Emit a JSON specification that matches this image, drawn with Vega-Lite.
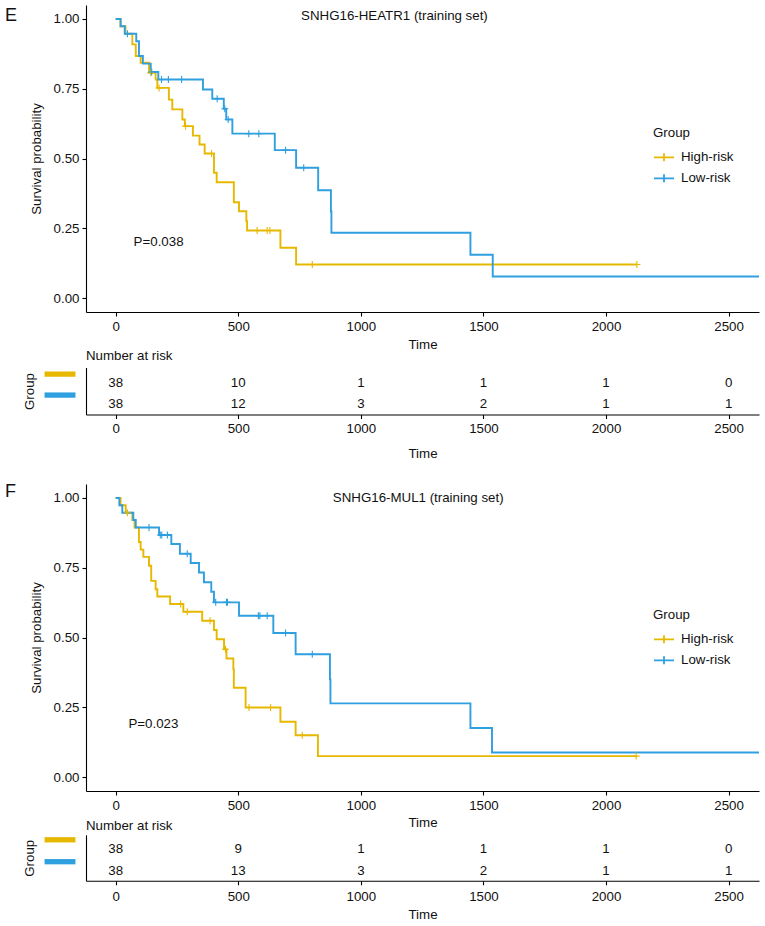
{
  "$schema": "https://vega.github.io/schema/vega-lite/v6.json",
  "background": "white",
  "config": {
    "view": {"stroke": null},
    "font": "Liberation Sans",
    "axis": {"domainColor": "#000", "domainWidth": 1.1, "tickColor": "#000", "tickWidth": 1.1, "tickSize": 4, "labelColor": "#111", "labelFont": "Liberation Sans", "labelFontSize": 13.3, "titleFont": "Liberation Sans", "titleFontSize": 13.3, "titleFontWeight": "normal", "titleColor": "#111", "grid": false},
    "legend": {"labelFont": "Liberation Sans", "titleFont": "Liberation Sans", "labelColor": "#111", "titleColor": "#111"},
    "text": {"font": "Liberation Sans", "fontSize": 13.3, "color": "#111"},
    "title": {"font": "Liberation Sans", "color": "#111"}
  },
  "datasets": {
    "curves": [
      {"panel": "E", "group": "High-risk", "time": 0, "surv": 1.0},
      {"panel": "E", "group": "High-risk", "time": 20, "surv": 0.974},
      {"panel": "E", "group": "High-risk", "time": 40, "surv": 0.947},
      {"panel": "E", "group": "High-risk", "time": 68, "surv": 0.909},
      {"panel": "E", "group": "High-risk", "time": 82, "surv": 0.867},
      {"panel": "E", "group": "High-risk", "time": 102, "surv": 0.843},
      {"panel": "E", "group": "High-risk", "time": 136, "surv": 0.807},
      {"panel": "E", "group": "High-risk", "time": 163, "surv": 0.783},
      {"panel": "E", "group": "High-risk", "time": 170, "surv": 0.753},
      {"panel": "E", "group": "High-risk", "time": 217, "surv": 0.711},
      {"panel": "E", "group": "High-risk", "time": 231, "surv": 0.676},
      {"panel": "E", "group": "High-risk", "time": 272, "surv": 0.64},
      {"panel": "E", "group": "High-risk", "time": 282, "surv": 0.616},
      {"panel": "E", "group": "High-risk", "time": 315, "surv": 0.582},
      {"panel": "E", "group": "High-risk", "time": 342, "surv": 0.55},
      {"panel": "E", "group": "High-risk", "time": 363, "surv": 0.518},
      {"panel": "E", "group": "High-risk", "time": 401, "surv": 0.449},
      {"panel": "E", "group": "High-risk", "time": 412, "surv": 0.415},
      {"panel": "E", "group": "High-risk", "time": 482, "surv": 0.343},
      {"panel": "E", "group": "High-risk", "time": 503, "surv": 0.311},
      {"panel": "E", "group": "High-risk", "time": 533, "surv": 0.275},
      {"panel": "E", "group": "High-risk", "time": 536, "surv": 0.242},
      {"panel": "E", "group": "High-risk", "time": 672, "surv": 0.18},
      {"panel": "E", "group": "High-risk", "time": 736, "surv": 0.12},
      {"panel": "E", "group": "High-risk", "time": 2126, "surv": 0.12},
      {"panel": "E", "group": "Low-risk", "time": 0, "surv": 1.0},
      {"panel": "E", "group": "Low-risk", "time": 20, "surv": 0.974},
      {"panel": "E", "group": "Low-risk", "time": 37, "surv": 0.947},
      {"panel": "E", "group": "Low-risk", "time": 84, "surv": 0.92},
      {"panel": "E", "group": "Low-risk", "time": 95, "surv": 0.867},
      {"panel": "E", "group": "Low-risk", "time": 111, "surv": 0.84},
      {"panel": "E", "group": "Low-risk", "time": 143, "surv": 0.81},
      {"panel": "E", "group": "Low-risk", "time": 174, "surv": 0.783},
      {"panel": "E", "group": "Low-risk", "time": 356, "surv": 0.747},
      {"panel": "E", "group": "Low-risk", "time": 394, "surv": 0.714},
      {"panel": "E", "group": "Low-risk", "time": 441, "surv": 0.678},
      {"panel": "E", "group": "Low-risk", "time": 451, "surv": 0.64},
      {"panel": "E", "group": "Low-risk", "time": 476, "surv": 0.589},
      {"panel": "E", "group": "Low-risk", "time": 649, "surv": 0.53},
      {"panel": "E", "group": "Low-risk", "time": 736, "surv": 0.467},
      {"panel": "E", "group": "Low-risk", "time": 826, "surv": 0.386},
      {"panel": "E", "group": "Low-risk", "time": 878, "surv": 0.31},
      {"panel": "E", "group": "Low-risk", "time": 880, "surv": 0.234},
      {"panel": "E", "group": "Low-risk", "time": 1447, "surv": 0.155},
      {"panel": "E", "group": "Low-risk", "time": 1538, "surv": 0.077},
      {"panel": "E", "group": "Low-risk", "time": 2624, "surv": 0.077},
      {"panel": "F", "group": "High-risk", "time": 0, "surv": 1.0},
      {"panel": "F", "group": "High-risk", "time": 20, "surv": 0.974},
      {"panel": "F", "group": "High-risk", "time": 41, "surv": 0.947},
      {"panel": "F", "group": "High-risk", "time": 68, "surv": 0.921},
      {"panel": "F", "group": "High-risk", "time": 77, "surv": 0.894},
      {"panel": "F", "group": "High-risk", "time": 95, "surv": 0.842},
      {"panel": "F", "group": "High-risk", "time": 102, "surv": 0.815},
      {"panel": "F", "group": "High-risk", "time": 113, "surv": 0.789},
      {"panel": "F", "group": "High-risk", "time": 136, "surv": 0.757},
      {"panel": "F", "group": "High-risk", "time": 145, "surv": 0.703},
      {"panel": "F", "group": "High-risk", "time": 163, "surv": 0.673},
      {"panel": "F", "group": "High-risk", "time": 170, "surv": 0.647},
      {"panel": "F", "group": "High-risk", "time": 222, "surv": 0.62},
      {"panel": "F", "group": "High-risk", "time": 276, "surv": 0.592},
      {"panel": "F", "group": "High-risk", "time": 353, "surv": 0.56},
      {"panel": "F", "group": "High-risk", "time": 401, "surv": 0.527},
      {"panel": "F", "group": "High-risk", "time": 412, "surv": 0.494},
      {"panel": "F", "group": "High-risk", "time": 442, "surv": 0.458},
      {"panel": "F", "group": "High-risk", "time": 452, "surv": 0.425},
      {"panel": "F", "group": "High-risk", "time": 480, "surv": 0.386},
      {"panel": "F", "group": "High-risk", "time": 482, "surv": 0.32},
      {"panel": "F", "group": "High-risk", "time": 530, "surv": 0.249},
      {"panel": "F", "group": "High-risk", "time": 672, "surv": 0.198},
      {"panel": "F", "group": "High-risk", "time": 734, "surv": 0.15},
      {"panel": "F", "group": "High-risk", "time": 825, "surv": 0.075},
      {"panel": "F", "group": "High-risk", "time": 2123, "surv": 0.075},
      {"panel": "F", "group": "Low-risk", "time": 0, "surv": 1.0},
      {"panel": "F", "group": "Low-risk", "time": 15, "surv": 0.974},
      {"panel": "F", "group": "Low-risk", "time": 27, "surv": 0.947},
      {"panel": "F", "group": "Low-risk", "time": 72, "surv": 0.921},
      {"panel": "F", "group": "Low-risk", "time": 82, "surv": 0.894},
      {"panel": "F", "group": "Low-risk", "time": 177, "surv": 0.867},
      {"panel": "F", "group": "Low-risk", "time": 227, "surv": 0.835},
      {"panel": "F", "group": "Low-risk", "time": 262, "surv": 0.8},
      {"panel": "F", "group": "Low-risk", "time": 306, "surv": 0.767},
      {"panel": "F", "group": "Low-risk", "time": 340, "surv": 0.733},
      {"panel": "F", "group": "Low-risk", "time": 360, "surv": 0.698},
      {"panel": "F", "group": "Low-risk", "time": 390, "surv": 0.664},
      {"panel": "F", "group": "Low-risk", "time": 401, "surv": 0.626},
      {"panel": "F", "group": "Low-risk", "time": 503, "surv": 0.578},
      {"panel": "F", "group": "Low-risk", "time": 643, "surv": 0.516},
      {"panel": "F", "group": "Low-risk", "time": 734, "surv": 0.44},
      {"panel": "F", "group": "Low-risk", "time": 874, "surv": 0.35},
      {"panel": "F", "group": "Low-risk", "time": 876, "surv": 0.264},
      {"panel": "F", "group": "Low-risk", "time": 1447, "surv": 0.176},
      {"panel": "F", "group": "Low-risk", "time": 1535, "surv": 0.088},
      {"panel": "F", "group": "Low-risk", "time": 2624, "surv": 0.088}
    ],
    "censor": [
      {"panel": "E", "group": "High-risk", "time": 143, "surv": 0.807},
      {"panel": "E", "group": "High-risk", "time": 177, "surv": 0.753},
      {"panel": "E", "group": "High-risk", "time": 285, "surv": 0.616},
      {"panel": "E", "group": "High-risk", "time": 391, "surv": 0.518},
      {"panel": "E", "group": "High-risk", "time": 577, "surv": 0.242},
      {"panel": "E", "group": "High-risk", "time": 618, "surv": 0.242},
      {"panel": "E", "group": "High-risk", "time": 629, "surv": 0.242},
      {"panel": "E", "group": "High-risk", "time": 802, "surv": 0.12},
      {"panel": "E", "group": "High-risk", "time": 2126, "surv": 0.12},
      {"panel": "E", "group": "Low-risk", "time": 48, "surv": 0.947},
      {"panel": "E", "group": "Low-risk", "time": 147, "surv": 0.81},
      {"panel": "E", "group": "Low-risk", "time": 187, "surv": 0.783},
      {"panel": "E", "group": "Low-risk", "time": 215, "surv": 0.783},
      {"panel": "E", "group": "Low-risk", "time": 269, "surv": 0.783},
      {"panel": "E", "group": "Low-risk", "time": 414, "surv": 0.714},
      {"panel": "E", "group": "Low-risk", "time": 445, "surv": 0.678},
      {"panel": "E", "group": "Low-risk", "time": 459, "surv": 0.64},
      {"panel": "E", "group": "Low-risk", "time": 543, "surv": 0.589},
      {"panel": "E", "group": "Low-risk", "time": 584, "surv": 0.589},
      {"panel": "E", "group": "Low-risk", "time": 693, "surv": 0.53},
      {"panel": "E", "group": "Low-risk", "time": 767, "surv": 0.467},
      {"panel": "F", "group": "High-risk", "time": 48, "surv": 0.947},
      {"panel": "F", "group": "High-risk", "time": 265, "surv": 0.62},
      {"panel": "F", "group": "High-risk", "time": 292, "surv": 0.592},
      {"panel": "F", "group": "High-risk", "time": 385, "surv": 0.56},
      {"panel": "F", "group": "High-risk", "time": 448, "surv": 0.458},
      {"panel": "F", "group": "High-risk", "time": 544, "surv": 0.249},
      {"panel": "F", "group": "High-risk", "time": 632, "surv": 0.249},
      {"panel": "F", "group": "High-risk", "time": 761, "surv": 0.15},
      {"panel": "F", "group": "High-risk", "time": 2123, "surv": 0.075},
      {"panel": "F", "group": "Low-risk", "time": 136, "surv": 0.894},
      {"panel": "F", "group": "Low-risk", "time": 182, "surv": 0.867},
      {"panel": "F", "group": "Low-risk", "time": 188, "surv": 0.867},
      {"panel": "F", "group": "Low-risk", "time": 211, "surv": 0.867},
      {"panel": "F", "group": "Low-risk", "time": 292, "surv": 0.8},
      {"panel": "F", "group": "Low-risk", "time": 408, "surv": 0.626},
      {"panel": "F", "group": "Low-risk", "time": 452, "surv": 0.626},
      {"panel": "F", "group": "Low-risk", "time": 456, "surv": 0.626},
      {"panel": "F", "group": "Low-risk", "time": 582, "surv": 0.578},
      {"panel": "F", "group": "Low-risk", "time": 588, "surv": 0.578},
      {"panel": "F", "group": "Low-risk", "time": 618, "surv": 0.578},
      {"panel": "F", "group": "Low-risk", "time": 693, "surv": 0.516},
      {"panel": "F", "group": "Low-risk", "time": 802, "surv": 0.44}
    ],
    "risk": [
      {"panel": "E", "group": "High-risk", "time": 0, "n": 38},
      {"panel": "E", "group": "High-risk", "time": 500, "n": 10},
      {"panel": "E", "group": "High-risk", "time": 1000, "n": 1},
      {"panel": "E", "group": "High-risk", "time": 1500, "n": 1},
      {"panel": "E", "group": "High-risk", "time": 2000, "n": 1},
      {"panel": "E", "group": "High-risk", "time": 2500, "n": 0},
      {"panel": "E", "group": "Low-risk", "time": 0, "n": 38},
      {"panel": "E", "group": "Low-risk", "time": 500, "n": 12},
      {"panel": "E", "group": "Low-risk", "time": 1000, "n": 3},
      {"panel": "E", "group": "Low-risk", "time": 1500, "n": 2},
      {"panel": "E", "group": "Low-risk", "time": 2000, "n": 1},
      {"panel": "E", "group": "Low-risk", "time": 2500, "n": 1},
      {"panel": "F", "group": "High-risk", "time": 0, "n": 38},
      {"panel": "F", "group": "High-risk", "time": 500, "n": 9},
      {"panel": "F", "group": "High-risk", "time": 1000, "n": 1},
      {"panel": "F", "group": "High-risk", "time": 1500, "n": 1},
      {"panel": "F", "group": "High-risk", "time": 2000, "n": 1},
      {"panel": "F", "group": "High-risk", "time": 2500, "n": 0},
      {"panel": "F", "group": "Low-risk", "time": 0, "n": 38},
      {"panel": "F", "group": "Low-risk", "time": 500, "n": 13},
      {"panel": "F", "group": "Low-risk", "time": 1000, "n": 3},
      {"panel": "F", "group": "Low-risk", "time": 1500, "n": 2},
      {"panel": "F", "group": "Low-risk", "time": 2000, "n": 1},
      {"panel": "F", "group": "Low-risk", "time": 2500, "n": 1}
    ]
  },
  "spacing": 23,
  "resolve": {"scale": {"x": "independent", "y": "independent", "color": "independent"}, "legend": {"color": "independent"}},
  "vconcat": [
    {
      "bounds": "flush",
      "spacing": 55.5,
      "resolve": {"scale": {"x": "independent", "y": "independent", "color": "independent"}, "legend": {"color": "independent"}},
      "vconcat": [
        {
          "width": 673,
          "height": 307,
          "title": {"text": "E", "anchor": "start", "frame": "group", "dx": -81, "offset": -33.7, "baseline": "alphabetic", "fontSize": 18, "fontWeight": "normal"},
          "layer": [
            {
              "data": {"name": "curves"},
              "transform": [{"filter": "datum.panel === 'E'"}],
              "mark": {"type": "line", "interpolate": "step-after", "strokeWidth": 1.9},
              "encoding": {
                "x": {"field": "time", "type": "quantitative", "scale": {"domain": [-121, 2624], "nice": false, "zero": false}, "axis": {"values": [0, 500, 1000, 1500, 2000, 2500], "format": "d", "title": "Time", "labelPadding": 3.5, "titlePadding": 4.5}},
                "y": {"field": "surv", "type": "quantitative", "scale": {"domain": [-0.05, 1.05], "nice": false, "zero": false}, "axis": {"values": [0, 0.25, 0.5, 0.75, 1], "format": ".2f", "title": "Survival probability", "labelPadding": 3, "titlePadding": 10}},
                "color": {"field": "group", "type": "nominal", "scale": {"domain": ["High-risk", "Low-risk"], "range": ["#E7B800", "#2E9FDF"]}, "legend": {"orient": "none", "legendX": 567, "legendY": 121, "title": "Group", "titleFontSize": 13.3, "titleFontWeight": "normal", "titlePadding": 7, "labelFontSize": 13.3, "symbolType": "M-1,0H1M0,-0.4V0.4", "symbolSize": 400, "symbolStrokeWidth": 1.8, "rowPadding": 2, "labelOffset": 6}}
              }
            },
            {
              "data": {"name": "censor"},
              "transform": [{"filter": "datum.panel === 'E'"}],
              "mark": {"type": "point", "shape": "M-1,0H1M0,-1V1", "size": 49, "strokeWidth": 1.1, "filled": false, "opacity": 1},
              "encoding": {
                "x": {"field": "time", "type": "quantitative"},
                "y": {"field": "surv", "type": "quantitative"},
                "color": {"field": "group", "type": "nominal"}
              }
            },
            {
              "data": {"values": [{}]},
              "mark": {"type": "text", "align": "center", "baseline": "middle"},
              "encoding": {"x": {"datum": 1137}, "y": {"datum": 1.009}, "text": {"value": "SNHG16-HEATR1 (training set)"}}
            },
            {
              "data": {"values": [{}]},
              "mark": {"type": "text", "align": "center", "baseline": "middle"},
              "encoding": {"x": {"datum": 175}, "y": {"datum": 0.2}, "text": {"value": "P=0.038"}}
            }
          ]
        },
        {
          "width": 673,
          "height": 47,
          "title": {"text": "Number at risk", "anchor": "start", "frame": "group", "offset": -5.8, "baseline": "alphabetic", "fontSize": 13.3, "fontWeight": "normal"},
          "data": {"name": "risk"},
          "transform": [{"filter": "datum.panel === 'E'"}],
          "layer": [
            {
              "mark": {"type": "text", "align": "center", "baseline": "middle"},
              "encoding": {
                "x": {"field": "time", "type": "quantitative", "scale": {"domain": [-121, 2624], "nice": false, "zero": false}, "axis": {"values": [0, 500, 1000, 1500, 2000, 2500], "format": "d", "title": "Time", "labelPadding": 2.5, "titlePadding": 12}},
                "y": {"field": "group", "type": "nominal", "sort": ["High-risk", "Low-risk"], "scale": {"type": "point", "padding": 0.62, "align": 0.6}, "axis": {"orient": "left", "title": "Group", "labels": false, "ticks": false, "titlePadding": 50}},
                "text": {"field": "n", "type": "quantitative"}
              }
            },
            {
              "transform": [{"filter": "datum.time === 0"}],
              "mark": {"type": "rule", "strokeWidth": 5.3, "strokeCap": "butt", "yOffset": -9},
              "encoding": {
                "x": {"datum": -290},
                "x2": {"datum": -164},
                "y": {"field": "group", "type": "nominal", "sort": ["High-risk", "Low-risk"]},
                "color": {"field": "group", "type": "nominal", "scale": {"domain": ["High-risk", "Low-risk"], "range": ["#E7B800", "#2E9FDF"]}, "legend": null}
              }
            }
          ]
        }
      ]
    },
    {
      "bounds": "flush",
      "spacing": 43.8,
      "resolve": {"scale": {"x": "independent", "y": "independent", "color": "independent"}, "legend": {"color": "independent"}},
      "vconcat": [
        {
          "width": 673,
          "height": 307,
          "title": {"text": "F", "anchor": "start", "frame": "group", "dx": -81, "offset": -31.2, "baseline": "alphabetic", "fontSize": 18, "fontWeight": "normal"},
          "layer": [
            {
              "data": {"name": "curves"},
              "transform": [{"filter": "datum.panel === 'F'"}],
              "mark": {"type": "line", "interpolate": "step-after", "strokeWidth": 1.9},
              "encoding": {
                "x": {"field": "time", "type": "quantitative", "scale": {"domain": [-121, 2624], "nice": false, "zero": false}, "axis": {"values": [0, 500, 1000, 1500, 2000, 2500], "format": "d", "title": "Time", "labelPadding": 3, "titlePadding": 4.5}},
                "y": {"field": "surv", "type": "quantitative", "scale": {"domain": [-0.05, 1.05], "nice": false, "zero": false}, "axis": {"values": [0, 0.25, 0.5, 0.75, 1], "format": ".2f", "title": "Survival probability", "labelPadding": 3, "titlePadding": 10}},
                "color": {"field": "group", "type": "nominal", "scale": {"domain": ["High-risk", "Low-risk"], "range": ["#E7B800", "#2E9FDF"]}, "legend": {"orient": "none", "legendX": 567, "legendY": 124, "title": "Group", "titleFontSize": 13.3, "titleFontWeight": "normal", "titlePadding": 7, "labelFontSize": 13.3, "symbolType": "M-1,0H1M0,-0.4V0.4", "symbolSize": 400, "symbolStrokeWidth": 1.8, "rowPadding": 2, "labelOffset": 6}}
              }
            },
            {
              "data": {"name": "censor"},
              "transform": [{"filter": "datum.panel === 'F'"}],
              "mark": {"type": "point", "shape": "M-1,0H1M0,-1V1", "size": 49, "strokeWidth": 1.1, "filled": false, "opacity": 1},
              "encoding": {
                "x": {"field": "time", "type": "quantitative"},
                "y": {"field": "surv", "type": "quantitative"},
                "color": {"field": "group", "type": "nominal"}
              }
            },
            {
              "data": {"values": [{}]},
              "mark": {"type": "text", "align": "center", "baseline": "middle"},
              "encoding": {"x": {"datum": 1234}, "y": {"datum": 1.0}, "text": {"value": "SNHG16-MUL1 (training set)"}}
            },
            {
              "data": {"values": [{}]},
              "mark": {"type": "text", "align": "center", "baseline": "middle"},
              "encoding": {"x": {"datum": 154}, "y": {"datum": 0.19}, "text": {"value": "P=0.023"}}
            }
          ]
        },
        {
          "width": 673,
          "height": 46,
          "title": {"text": "Number at risk", "anchor": "start", "frame": "group", "offset": -8.5, "baseline": "alphabetic", "fontSize": 13.3, "fontWeight": "normal"},
          "data": {"name": "risk"},
          "transform": [{"filter": "datum.panel === 'F'"}],
          "layer": [
            {
              "mark": {"type": "text", "align": "center", "baseline": "middle"},
              "encoding": {
                "x": {"field": "time", "type": "quantitative", "scale": {"domain": [-121, 2624], "nice": false, "zero": false}, "axis": {"values": [0, 500, 1000, 1500, 2000, 2500], "format": "d", "title": "Time", "labelPadding": 5, "titlePadding": 4.5}},
                "y": {"field": "group", "type": "nominal", "sort": ["High-risk", "Low-risk"], "scale": {"type": "point", "padding": 0.55, "align": 0.61}, "axis": {"orient": "left", "title": "Group", "labels": false, "ticks": false, "titlePadding": 50}},
                "text": {"field": "n", "type": "quantitative"}
              }
            },
            {
              "transform": [{"filter": "datum.time === 0"}],
              "mark": {"type": "rule", "strokeWidth": 5.3, "strokeCap": "butt", "yOffset": -9.7},
              "encoding": {
                "x": {"datum": -290},
                "x2": {"datum": -164},
                "y": {"field": "group", "type": "nominal", "sort": ["High-risk", "Low-risk"]},
                "color": {"field": "group", "type": "nominal", "scale": {"domain": ["High-risk", "Low-risk"], "range": ["#E7B800", "#2E9FDF"]}, "legend": null}
              }
            }
          ]
        }
      ]
    }
  ]
}
